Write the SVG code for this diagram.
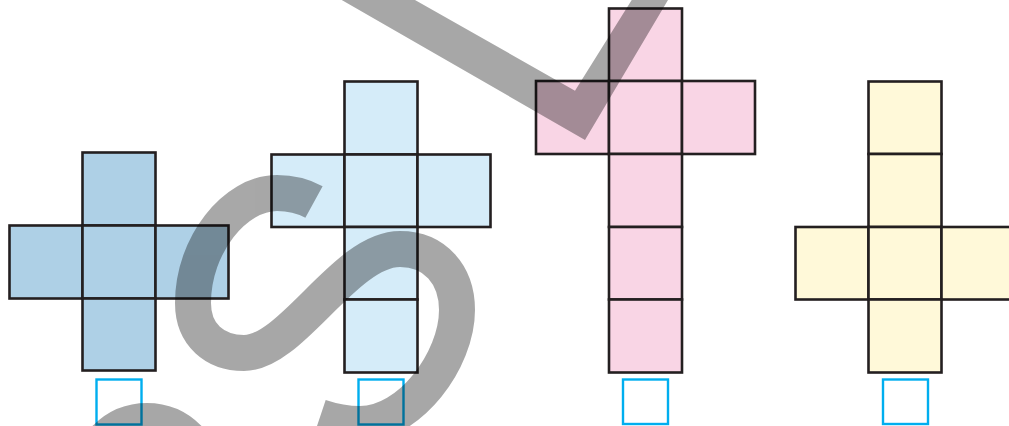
<svg xmlns="http://www.w3.org/2000/svg" width="1009" height="426" viewBox="0 0 1009 426">
<style>
.c{stroke:#231f20;stroke-width:2.6;stroke-linejoin:miter}
.n1{fill:#aed0e6}
.n2{fill:#d5ecf9}
.n3{fill:#f9d5e5}
.n4{fill:#fff9d9}
.box{fill:none;stroke:#00aeef;stroke-width:2.4}
.wm{fill:none;stroke:#000;stroke-width:36;stroke-linecap:butt}
</style>
<rect width="1009" height="426" fill="#ffffff"/>
<g id="net1">
<rect class="c n1" x="82.5" y="152.5" width="73" height="73"/>
<rect class="c n1" x="9.5" y="225.5" width="73" height="73"/>
<rect class="c n1" x="82.5" y="225.5" width="73" height="73"/>
<rect class="c n1" x="155.5" y="225.5" width="73" height="73"/>
<rect class="c n1" x="82.5" y="298.5" width="73" height="72"/>
<rect class="box" x="96.5" y="379.5" width="45" height="45"/>
</g>
<g id="net2">
<rect class="c n2" x="344.5" y="81.5" width="73" height="73"/>
<rect class="c n2" x="271.5" y="154.5" width="73" height="72.5"/>
<rect class="c n2" x="344.5" y="154.5" width="73" height="72.5"/>
<rect class="c n2" x="417.5" y="154.5" width="73" height="72.5"/>
<rect class="c n2" x="344.5" y="227" width="73" height="72.5"/>
<rect class="c n2" x="344.5" y="299.5" width="73" height="73"/>
<rect class="box" x="358.5" y="379.5" width="45" height="45"/>
</g>
<g id="net3">
<rect class="c n3" x="609" y="8.5" width="73" height="72.5"/>
<rect class="c n3" x="536" y="81" width="73" height="73"/>
<rect class="c n3" x="609" y="81" width="73" height="73"/>
<rect class="c n3" x="682" y="81" width="73" height="73"/>
<rect class="c n3" x="609" y="154" width="73" height="73"/>
<rect class="c n3" x="609" y="227" width="73" height="72.5"/>
<rect class="c n3" x="609" y="299.5" width="73" height="73"/>
<rect class="box" x="623" y="379.5" width="45" height="44.5"/>
</g>
<g id="net4">
<rect class="c n4" x="868.5" y="81.5" width="73" height="72.5"/>
<rect class="c n4" x="868.5" y="154" width="73" height="73"/>
<rect class="c n4" x="795.5" y="227" width="73" height="72.5"/>
<rect class="c n4" x="868.5" y="227" width="73" height="72.5"/>
<rect class="c n4" x="941.5" y="227" width="73" height="72.5"/>
<rect class="c n4" x="868.5" y="299.5" width="73" height="73"/>
<rect class="box" x="883" y="379.5" width="45" height="44.5"/>
</g>
<g id="connectors"></g>
<g id="watermark" opacity="0.34">
<polygon points="341.7,0 415,0 575,90.7 631.7,0 668,0 585,140" fill="#000"/>
<path class="wm" d="M314,202 C303,196 290,193 277,193 C235,193 193,245 193,303 C193,335 215,353 244,353 C292,353 345,249 400,249 C435,249 457,275 457,310 C457,360 410,424 360,424 C345,424 332,421 320,417"/>
<path class="wm" d="M89,479 A58,58 0 0 1 205,479"/>
</g>
</svg>
